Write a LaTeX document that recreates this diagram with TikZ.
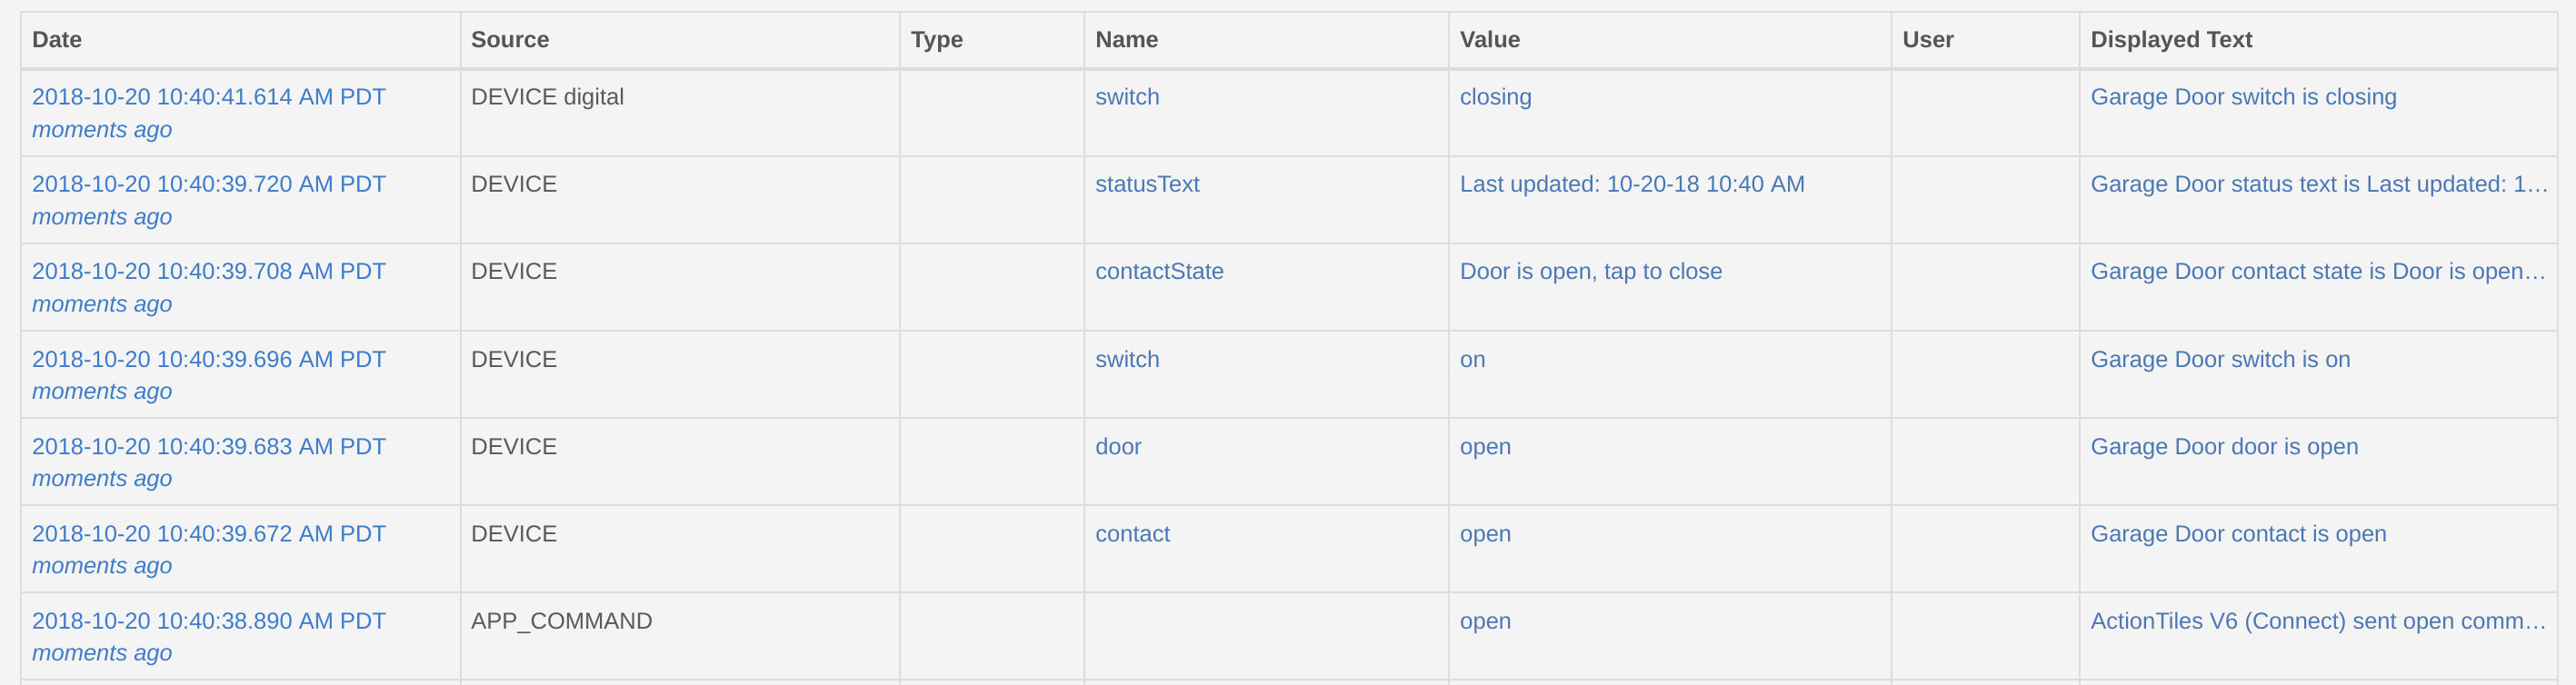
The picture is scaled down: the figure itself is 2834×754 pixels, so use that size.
\documentclass[tikz,border=0pt]{standalone}
\usepackage{fontspec}
\setmainfont{Liberation Sans}
\usepackage{tikz}
\frenchspacing

\definecolor{pagebg}{HTML}{F4F4F4}
\definecolor{linegray}{HTML}{DDDDDD}
\definecolor{headgray}{HTML}{555555}
\definecolor{srcgray}{HTML}{5A5A5A}
\definecolor{datelink}{HTML}{3E7CCB}
\definecolor{vallink}{HTML}{4A78B4}

\tikzset{
    cell/.style = {anchor=base west, inner sep=0pt, font={\fontsize{12.75}{15}\selectfont}},
    headcell/.style = {cell, font={\fontsize{12.75}{15}\selectfont\bfseries}, text=headgray},
    datecell/.style = {cell, text=datelink},
    agocell/.style = {cell, font={\fontsize{12.75}{15}\selectfont\itshape}, text=datelink},
    srccell/.style = {cell, text=srcgray},
    valcell/.style = {cell, text=vallink},
    gridline/.style = {draw=linegray, line width=1pt}
}

\begin{document}
\begin{tikzpicture}[x=0.5pt, y=-0.5pt]
            \useasboundingbox[fill=pagebg] (0,0) rectangle (2834,754);
            % table lines
            \draw[gridline] (23,13) -- (2814,13);
            \draw[gridline, line width=2pt] (23,76) -- (2814,76);
            \foreach \y in {172,268,...,748}
                \draw[gridline] (23,\y) -- (2814,\y);
            \foreach \x in {23,507,990,1193,1594,2081,2288,2814}
                \draw[gridline] (\x,12) -- (\x,754);
            % header
            \node[headcell] (hdate) at (35, 53) {Date};
            \node[headcell] (hsrc) at (518, 53) {Source};
            \node[headcell] (htype) at (1002, 53) {Type};
            \node[headcell] (hname) at (1205, 53) {Name};
            \node[headcell] (hval) at (1606, 53) {Value};
            \node[headcell] (huser) at (2093, 53) {User};
            \node[headcell] (htxt) at (2300, 53) {Displayed Text};
            % row 1
            \node[datecell] (date1) at (35, 116) {2018-10-20 10:40:41.614 AM PDT};
            \node[agocell] (ago1) at (35, 151.5) {moments ago};
            \node[srccell] (src1) at (518, 116) {DEVICE digital};
            \node[valcell] (name1) at (1205, 116) {switch};
            \node[valcell] (val1) at (1606, 116) {closing};
            \node[valcell] (txt1) at (2300, 116) {Garage Door switch is closing};
            % row 2
            \node[datecell] (date2) at (35, 212) {2018-10-20 10:40:39.720 AM PDT};
            \node[agocell] (ago2) at (35, 247.5) {moments ago};
            \node[srccell] (src2) at (518, 212) {DEVICE};
            \node[valcell] (name2) at (1205, 212) {statusText};
            \node[valcell] (val2) at (1606, 212) {Last updated: 10-20-18 10:40 AM};
            \node[valcell] (txt2) at (2300, 212) {Garage Door status text is Last updated: 1…};
            % row 3
            \node[datecell] (date3) at (35, 308) {2018-10-20 10:40:39.708 AM PDT};
            \node[agocell] (ago3) at (35, 343.5) {moments ago};
            \node[srccell] (src3) at (518, 308) {DEVICE};
            \node[valcell] (name3) at (1205, 308) {contactState};
            \node[valcell] (val3) at (1606, 308) {Door is open, tap to close};
            \node[valcell] (txt3) at (2300, 308) {Garage Door contact state is Door is open…};
            % row 4
            \node[datecell] (date4) at (35, 404) {2018-10-20 10:40:39.696 AM PDT};
            \node[agocell] (ago4) at (35, 439.5) {moments ago};
            \node[srccell] (src4) at (518, 404) {DEVICE};
            \node[valcell] (name4) at (1205, 404) {switch};
            \node[valcell] (val4) at (1606, 404) {on};
            \node[valcell] (txt4) at (2300, 404) {Garage Door switch is on};
            % row 5
            \node[datecell] (date5) at (35, 500) {2018-10-20 10:40:39.683 AM PDT};
            \node[agocell] (ago5) at (35, 535.5) {moments ago};
            \node[srccell] (src5) at (518, 500) {DEVICE};
            \node[valcell] (name5) at (1205, 500) {door};
            \node[valcell] (val5) at (1606, 500) {open};
            \node[valcell] (txt5) at (2300, 500) {Garage Door door is open};
            % row 6
            \node[datecell] (date6) at (35, 596) {2018-10-20 10:40:39.672 AM PDT};
            \node[agocell] (ago6) at (35, 631.5) {moments ago};
            \node[srccell] (src6) at (518, 596) {DEVICE};
            \node[valcell] (name6) at (1205, 596) {contact};
            \node[valcell] (val6) at (1606, 596) {open};
            \node[valcell] (txt6) at (2300, 596) {Garage Door contact is open};
            % row 7
            \node[datecell] (date7) at (35, 692) {2018-10-20 10:40:38.890 AM PDT};
            \node[agocell] (ago7) at (35, 727.5) {moments ago};
            \node[srccell] (src7) at (518, 692) {APP\_COMMAND};
            \node[valcell] (val7) at (1606, 692) {open};
            \node[valcell] (txt7) at (2300, 692) {ActionTiles V6 (Connect) sent open comm…};
        \end{tikzpicture}
\end{document}
